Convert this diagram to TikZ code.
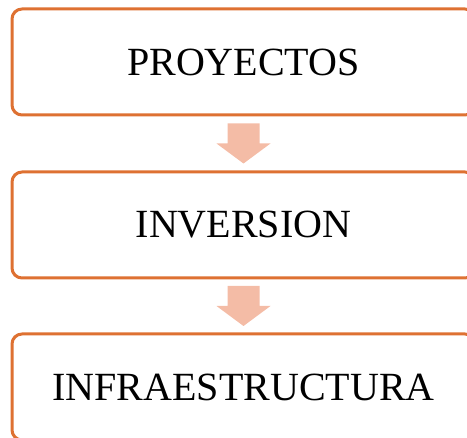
\documentclass[tikz,border=0pt]{standalone}
\usepackage{fontspec}
\setmainfont{Liberation Serif}
\usepackage{tikz}
\usetikzlibrary{positioning,calc}
\definecolor{orangei}{RGB}{222,113,50}
\definecolor{salmoni}{RGB}{244,188,166}
\tikzset{
      mystepblock/.style={
        draw=orangei,
        fill=white,
        line width=3pt,
        rounded corners=10pt,
        align=center,
        font=\fontsize{40}{46}\selectfont,
        minimum width=463pt,
        minimum height=106pt,
        inner sep=0pt
      },
      mydownarrow/.style={
        fill=salmoni,
        draw=none
      },
    }
% flecha de bloque hacia abajo, centrada en #1
\newcommand{\flechabajo}[1]{%
  \fill[mydownarrow] ($(#1)+(-16,20)$) -- ($(#1)+(16,20)$) -- ($(#1)+(16,0)$)
    -- ($(#1)+(27,0)$) -- ($(#1)+(0,-20)$) -- ($(#1)+(-27,0)$)
    -- ($(#1)+(-16,0)$) -- cycle;}

\begin{document}
\begin{tikzpicture}[x=1pt,y=1pt,node distance=54pt]

          \useasboundingbox (0,0) rectangle (467,-438);

          \node[mystepblock]
            at (243.5,-62)
            (proyectos)
            {PROYECTOS};
          \node[mystepblock,below=of proyectos]
            (inversion)
            {INVERSION};
          \node[mystepblock,below=53pt of inversion]
            (infra)
            {INFRAESTRUCTURA};

          \coordinate (flecha1) at ($(proyectos.south)!0.5!(inversion.north)$);
          \coordinate (flecha2) at ($(inversion.south)!0.5!(infra.north)$);
          \flechabajo{flecha1}
          \flechabajo{flecha2}
        \end{tikzpicture}
\end{document}
